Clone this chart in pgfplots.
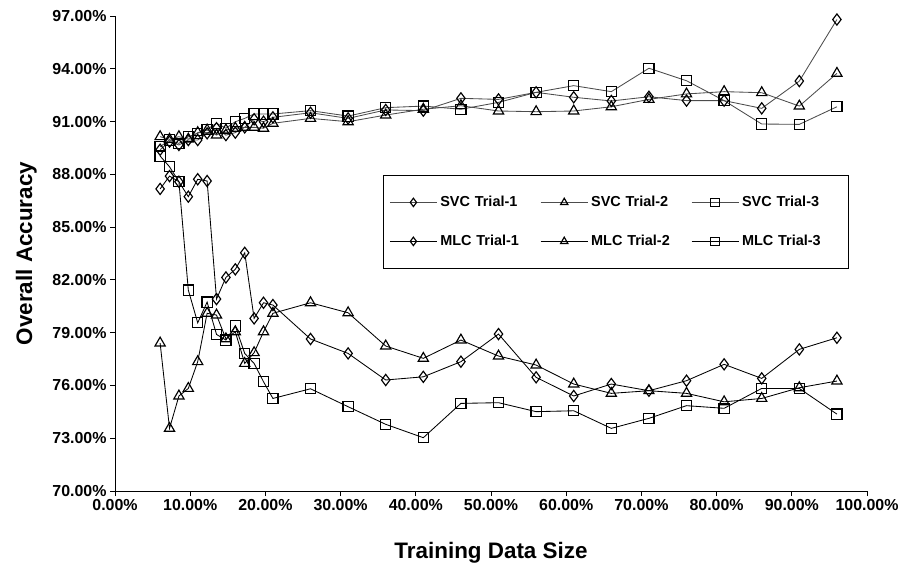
\documentclass[border=0pt]{standalone}
\usepackage{pgfplots}
\pgfplotsset{compat=1.18}
\usepackage{pgfplotstable}
\usepackage{fontspec}
\setmainfont{Liberation Sans}

\pgfplotstableread{
x y
6 89.40
7.25 89.86
8.5 89.67
9.75 89.95
11 89.95
12.25 90.33
13.5 90.62
14.75 90.23
16 90.37
17.25 90.67
18.5 91.13
19.75 90.99
21 91.24
26 91.50
31 91.18
36 91.66
41 91.62
46 92.32
51 92.26
56 92.66
61 92.38
66 92.17
71 92.41
76 92.19
81 92.19
86 91.75
91 93.30
96 96.80
}\svcone
\pgfplotstableread{
x y
6 90.14
7.25 89.99
8.5 90.14
9.75 90.00
11 90.37
12.25 90.52
13.5 90.23
14.75 90.52
16 90.62
17.25 90.67
18.5 90.67
19.75 90.62
21 90.90
26 91.18
31 90.99
36 91.37
41 91.70
46 91.90
51 91.60
56 91.56
61 91.60
66 91.84
71 92.26
76 92.57
81 92.70
86 92.64
91 91.88
96 93.74
}\svctwo
\pgfplotstableread{
x y
6 89.57
7.25 89.95
8.5 89.76
9.75 90.14
11 90.33
12.25 90.56
13.5 90.90
14.75 90.62
16 90.99
17.25 91.18
18.5 91.43
19.75 91.43
21 91.43
26 91.62
31 91.31
36 91.79
41 91.88
46 91.70
51 92.09
56 92.66
61 93.04
66 92.70
71 94.03
76 93.32
81 92.19
86 90.86
91 90.84
96 91.84
}\svcthree
\pgfplotstableread{
x y
6 87.17
7.25 87.90
8.5 87.58
9.75 86.73
11 87.72
12.25 87.62
13.5 80.91
14.75 82.14
16 82.60
17.25 83.54
18.5 79.81
19.75 80.70
21 80.57
26 78.64
31 77.82
36 76.31
41 76.49
46 77.35
51 78.92
56 76.46
61 75.40
66 76.08
71 75.70
76 76.27
81 77.20
86 76.40
91 78.05
96 78.71
}\mlcone
\pgfplotstableread{
x y
6 78.41
7.25 73.56
8.5 75.40
9.75 75.83
11 77.35
12.25 80.10
13.5 80.00
14.75 78.65
16 79.05
17.25 77.25
18.5 77.86
19.75 79.05
21 80.10
26 80.70
31 80.13
36 78.24
41 77.54
46 78.58
51 77.67
56 77.16
61 76.08
66 75.55
71 75.70
76 75.55
81 75.07
86 75.26
91 75.87
96 76.25
}\mlctwo
\pgfplotstableread{
x y
6 89.04
7.25 88.43
8.5 87.58
9.75 81.42
11 79.56
12.25 80.74
13.5 78.90
14.75 78.58
16 79.38
17.25 77.82
18.5 77.25
19.75 76.21
21 75.26
26 75.81
31 74.79
36 73.79
41 73.03
46 74.98
51 75.02
56 74.51
61 74.56
66 73.56
71 74.13
76 74.85
81 74.70
86 75.83
91 75.83
96 74.37
}\mlcthree

\begin{document}
\begin{tikzpicture}
\begin{axis}[
  scale only axis,
  width=752bp, height=475bp,
  xmin=0, xmax=100, ymin=70, ymax=97,
  xtick={0,10,...,100},
  ytick={70,73,...,97},
  axis lines*=left,
  axis line style={line width=0.9bp, -},
  tick align=outside,
  major tick length=5bp,
  tick style={line width=0.9bp, black},
  /pgf/number format/assume math mode=true,
  ticklabel style={font=\bfseries\fontsize{16}{18}\selectfont},
  xticklabel={\pgfmathprintnumber[fixed,fixed zerofill,precision=2]{\tick}\%},
  yticklabel={\pgfmathprintnumber[fixed,fixed zerofill,precision=2]{\tick}\%},
  xlabel={Training Data Size},
  ylabel={Overall Accuracy},
  label style={font=\bfseries\fontsize{22.5}{26}\selectfont},
  xlabel style={at={(axis description cs:0.5,-0.13)}, anchor=center},
  ylabel style={at={(axis description cs:-0.118,0.5)}, anchor=center},
  legend columns=3,
  legend style={at={(0.3564,0.6653)}, anchor=north west,
    draw=black, line width=0.9bp,
    font=\bfseries\fontsize{14.5}{17}\selectfont,
    inner xsep=6bp, inner ysep=20bp,
    row sep=25bp,
    nodes={text width=97bp, inner xsep=3bp, inner ysep=1bp}},
  legend cell align=left,
  legend image code/.code={\draw[mark repeat=2,mark phase=2,mark size=4.2bp]
     plot coordinates {(0bp,0bp) (23.5bp,0bp) (47bp,0bp)};},
  every axis plot/.append style={line width=0.85bp, mark options={solid, line width=1.15bp, draw=black, fill=none}},
  clip=false,
]
\coordinate (SW) at (rel axis cs:0,0);
\coordinate (NE) at (rel axis cs:1,1);
\addplot[black!70, mark=diamond, mark size=5.6bp] table {\svcone};
\addlegendentry{SVC Trial-1}
\addplot[black!70, mark=triangle, mark size=5.9bp] table {\svctwo};
\addlegendentry{SVC Trial-2}
\addplot[black!70, mark=square, mark size=5.1bp] table {\svcthree};
\addlegendentry{SVC Trial-3}
\addplot[black, mark=diamond, mark size=5.6bp] table {\mlcone};
\addlegendentry{MLC Trial-1}
\addplot[black, mark=triangle, mark size=5.9bp] table {\mlctwo};
\addlegendentry{MLC Trial-2}
\addplot[black, mark=square, mark size=5.1bp] table {\mlcthree};
\addlegendentry{MLC Trial-3}
\end{axis}
\pgfresetboundingbox
\path[use as bounding box] ([shift={(-115bp,-75bp)}]SW) rectangle ([shift={(39bp,16bp)}]NE);
\end{tikzpicture}
\end{document}
